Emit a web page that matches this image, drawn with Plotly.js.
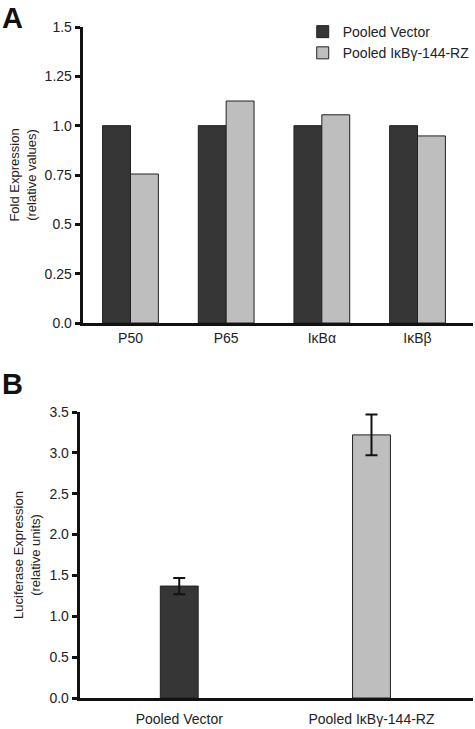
<!DOCTYPE html>
<html>
<head>
<meta charset="utf-8">
<script src="https://cdn.plot.ly/plotly-3.0.1.min.js"></script>
<style>html,body{margin:0;padding:0;background:#fff;}#chart{width:475px;height:729px;}</style>
</head>
<body>
<div id="chart"></div>
<script>
// Panel A data
const categoriesA = ["P50", "P65", "I\u03baB\u03b1", "I\u03baB\u03b2"];
const pooledVector = [1.0, 1.0, 1.0, 1.0];
const pooledRZ = [0.755, 1.125, 1.055, 0.948];
const tickValsA = [0, 0.25, 0.5, 0.75, 1.0, 1.25, 1.5];
const tickTextA = ["0.0", "0.25", "0.5", "0.75", "1.0", "1.25", "1.5"];

// Panel B data
const categoriesB = ["Pooled Vector", "Pooled I\u03baB\u03b3-144-RZ"];
const luciferase = [1.37, 3.22];
const luciferaseErr = [0.1, 0.25];
const tickValsB = [0, 0.5, 1.0, 1.5, 2.0, 2.5, 3.0, 3.5];

const dark = "#363636";
const light = "#bebebe";
const fontFam = "Liberation Sans, Arial, sans-serif";

const traces = [
  {type: "bar", name: "Pooled Vector", x: categoriesA, y: pooledVector,
   xaxis: "x", yaxis: "y",
   marker: {color: dark, line: {color: "#222", width: 1}}},
  {type: "bar", name: "Pooled I\u03baB\u03b3-144-RZ", x: categoriesA, y: pooledRZ,
   xaxis: "x", yaxis: "y",
   marker: {color: light, line: {color: "#222", width: 1}}},
  {type: "bar", x: categoriesB, y: luciferase, xaxis: "x2", yaxis: "y2",
   width: 0.197, showlegend: false,
   marker: {color: [dark, light], line: {color: "#222", width: 1}},
   error_y: {type: "data", array: luciferaseErr, visible: true, color: "#111", thickness: 2, width: 6}}
];

const axisCommon = {
  showline: true, linecolor: "#111", linewidth: 3, showgrid: false, zeroline: false,
  tickfont: {family: fontFam, size: 14, color: "#222"}, automargin: false
};

const layout = {
  width: 475, height: 729,
  margin: {l: 0, r: 0, t: 0, b: 0},
  paper_bgcolor: "#fff", plot_bgcolor: "#fff",
  font: {family: fontFam, color: "#222"},
  barmode: "group", bargap: 0.417, bargroupgap: 0,
  showlegend: true,
  legend: {x: 0.64, y: 0.978, xanchor: "left", yanchor: "top", tracegroupgap: 0,
           font: {family: fontFam, size: 14, color: "#222"}, bgcolor: "rgba(0,0,0,0)"},
  xaxis: Object.assign({}, axisCommon, {domain: [83/475, 1], anchor: "y", range: [-0.5, 3.58],
          ticks: "", ticklabelstandoff: 0}),
  yaxis: Object.assign({}, axisCommon, {domain: [1 - 323/729, 1 - 27/729], anchor: "x", range: [0, 1.5],
          tickmode: "array", tickvals: tickValsA, ticktext: tickTextA,
          ticks: "outside", ticklen: 5, tickwidth: 3, tickcolor: "#111",
          title: {text: "Fold Expression<br>(relative values)", font: {family: fontFam, size: 13, color: "#222"}, standoff: 6}}),
  xaxis2: Object.assign({}, axisCommon, {domain: [80/475, 1], anchor: "y2", range: [-0.518, 1.528],
          ticks: "", ticklabelstandoff: 6}),
  yaxis2: Object.assign({}, axisCommon, {domain: [1 - 698/729, 1 - 412/729], anchor: "x2", range: [0, 3.5],
          tickmode: "array", tickvals: tickValsB, tickformat: ".1f",
          ticks: "outside", ticklen: 5, tickwidth: 3, tickcolor: "#111",
          title: {text: "Luciferase Expression<br>(relative units)", font: {family: fontFam, size: 13, color: "#222"}, standoff: 6}}),
  annotations: [
    {text: "<b>A</b>", xref: "paper", yref: "paper", x: 0, y: 1, xanchor: "left", yanchor: "top",
     showarrow: false, font: {family: fontFam, size: 29, color: "#111"}},
    {text: "<b>B</b>", xref: "paper", yref: "paper", x: 0, y: 1 - 366/729, xanchor: "left", yanchor: "top",
     showarrow: false, font: {family: fontFam, size: 29, color: "#111"}}
  ]
};

Plotly.newPlot("chart", traces, layout, {staticPlot: true, displayModeBar: false});
</script>
</body>
</html>
